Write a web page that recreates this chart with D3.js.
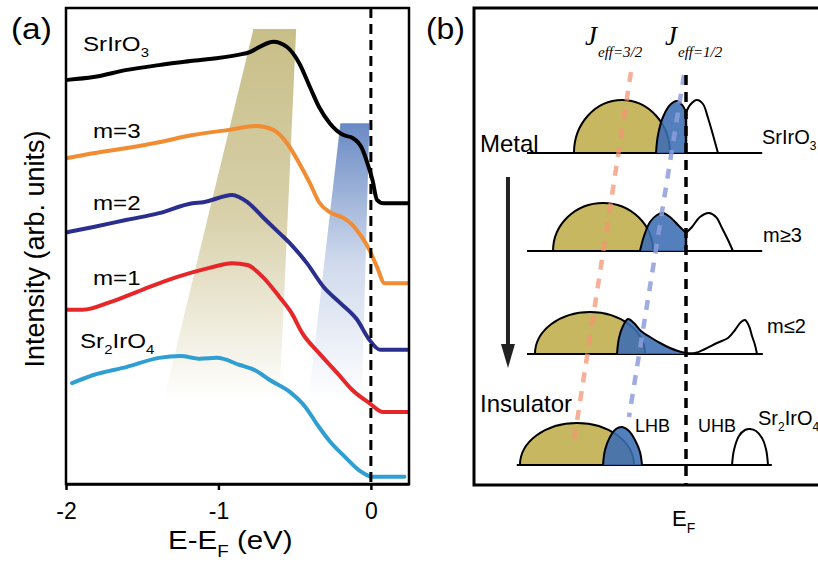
<!DOCTYPE html>
<html>
<head>
<meta charset="utf-8">
<script src="https://cdn.jsdelivr.net/npm/d3@7"></script>
<style>
body { margin: 0; background: #fff; }
svg { display: block; font-family: "Liberation Sans", Arial, sans-serif; }
</style>
</head>
<body>
<svg id="chart" width="818" height="564"></svg>
<script>
// ---------- panel (a): spectra, [E - E_F (eV), intensity (arb. units)] ----------
var srIrO3 = [[-1.99,84.9],[-1.82,85.5],[-1.60,87.0],[-1.39,88.0],[-1.17,88.9],[-0.88,90.1],[-0.79,90.8],
  [-0.72,92.0],[-0.64,92.9],[-0.55,91.8],[-0.47,88.4],[-0.40,83.4],[-0.34,79.2],[-0.27,75.8],[-0.18,73.3],
  [-0.12,72.7],[-0.06,70.6],[-0.03,68.1],[0.01,63.9],[0.04,59.7],[0.08,59.0],[0.24,59.0]];
var m3 = [[-1.99,68.5],[-1.82,69.5],[-1.60,70.6],[-1.39,71.8],[-1.17,73.3],[-0.93,74.4],[-0.75,75.2],
  [-0.64,74.4],[-0.55,71.6],[-0.47,67.4],[-0.40,63.2],[-0.34,59.2],[-0.27,57.1],[-0.18,55.9],[-0.12,54.4],
  [-0.06,51.9],[-0.01,49.2],[0.04,45.6],[0.09,42.2],[0.24,42.2]];
var m2 = [[-1.99,52.9],[-1.82,54.0],[-1.60,55.5],[-1.39,56.9],[-1.17,59.0],[-1.10,59.2],[-0.91,60.7],
  [-0.81,59.2],[-0.71,56.1],[-0.60,52.7],[-0.52,50.2],[-0.42,46.4],[-0.31,41.4],[-0.20,38.0],[-0.09,34.5],
  [-0.01,30.3],[0.06,28.2],[0.24,28.2]];
var m1 = [[-1.99,36.6],[-1.89,36.6],[-1.71,38.2],[-1.50,40.8],[-1.27,43.5],[-1.06,45.4],[-0.91,46.4],
  [-0.81,46.0],[-0.71,43.5],[-0.60,39.3],[-0.52,35.9],[-0.45,31.7],[-0.34,27.5],[-0.22,23.3],[-0.12,19.7],
  [-0.01,17.0],[0.08,15.1],[0.24,15.1]];
var sr2IrO4 = [[-1.96,21.2],[-1.82,22.9],[-1.60,24.6],[-1.39,26.5],[-1.25,26.9],[-1.12,26.3],[-1.01,26.5],
  [-0.86,25.0],[-0.76,23.9],[-0.66,21.8],[-0.53,19.3],[-0.43,16.2],[-0.35,12.4],[-0.27,9.0],[-0.17,5.7],
  [-0.07,2.7],[0.01,1.5],[0.22,1.5]];
var seriesNames = ["SrIrO3", "m=3", "m=2", "m=1", "Sr2IrO4"];
var seriesColors = ["#000000", "#f28c32", "#2a2e8c", "#e62629", "#2f9ed3"];
var xTicks = [-2, -1, 0];

// shaded guides of panel (a)
var shadeJ32 = [[-0.77,95.6],[-0.49,95.6],[-0.60,17.6],[-1.36,17.6]];
var shadeJ12 = [[-0.20,75.8],[-0.01,75.8],[-0.06,17.6],[-0.41,17.6]];

// ---------- panel (b): schematic DOS, [E (arb.), height] ----------
var rowNames = ["SrIrO3", "m≥3", "m≤2", "Sr2IrO4"];
var rowBase = [6.64, 4.68, 2.62, 0.4];
var rowSpan = [[-2.65,1.27],[-2.65,1.27],[-2.65,1.28],[-2.82,1.43]];
// J_eff=3/2 band: centre, half width, height
var j32Band = [[-1.067,0.80,1.06],[-1.383,0.833,0.96],[-1.60,0.917,0.84],[-1.817,0.95,0.84]];
// J_eff=1/2 band, occupied part (filled)
var j12Filled = [
  [[-0.5,0],[-0.467,0.36],[-0.383,0.72],[-0.267,0.96],[-0.15,1.04],[-0.05,0.94],[0,0.8]],
  [[-0.767,0],[-0.70,0.30],[-0.60,0.58],[-0.483,0.72],[-0.383,0.76],[-0.267,0.68],[-0.133,0.52],[0,0.36]],
  [[-1.15,0],[-1.117,0.32],[-1.05,0.56],[-0.967,0.70],[-0.867,0.62],[-0.75,0.46],[-0.60,0.34],[-0.433,0.22],
    [-0.267,0.12],[-0.133,0.06],[0,0.02]],
  [[-1.383,0],[-1.35,0.30],[-1.267,0.56],[-1.167,0.72],[-1.067,0.76],[-0.95,0.68],[-0.85,0.50],[-0.767,0.26],[-0.733,0]]
];
// J_eff=1/2 band, empty part (outline)
var j12Empty = [
  [[0,0.8],[0.067,0.96],[0.183,1.06],[0.283,0.98],[0.367,0.70],[0.45,0.36],[0.533,0]],
  [[0,0.36],[0.10,0.48],[0.233,0.68],[0.383,0.76],[0.50,0.68],[0.60,0.46],[0.70,0.22],[0.783,0]],
  [[0,0.02],[0.15,0.02],[0.317,0.10],[0.517,0.22],[0.70,0.32],[0.817,0.48],[0.917,0.64],[0.983,0.68],
    [1.05,0.56],[1.10,0.36],[1.15,0.18],[1.183,0]],
  [[0.767,0],[0.80,0.30],[0.883,0.58],[0.983,0.70],[1.067,0.72],[1.167,0.68],[1.267,0.54],[1.333,0.32],[1.367,0]]
];
var j32Guide = [[-0.917,8.26],[-1.883,0.76]];
var j12Guide = [[-0.033,8.2],[-0.95,1.36]];
var arrowPath = [[-2.967,6.16],[-2.967,2.34]];

var svg = d3.select("#chart");
var defs = svg.append("defs");

// helper: text with subscripts ("_x" parts), optional horizontal stretch
function addLabel(parent, x, y, parts, size, sx) {
  var t = parent.append("text")
    .attr("transform", "translate(" + x + "," + y + ") scale(" + (sx || 1) + ",1)")
    .style("font-size", size + "px")
    .attr("fill", "#000");
  var shift = 0;
  parts.forEach(function(p) {
    var sub = p.charAt(0) === "_";
    var target = sub ? Math.round(size * 0.3) : 0;
    t.append("tspan")
      .attr("dy", target - shift)
      .style("font-size", sub ? Math.round(size * 0.62) + "px" : null)
      .text(sub ? p.slice(1) : p);
    shift = target;
  });
  return t;
}

// ================= panel (a) =================
var xA = d3.scaleLinear().domain([-2, 0.25]).range([66, 409]);
var yA = d3.scaleLinear().domain([0, 100]).range([484, 8]);
var gA = svg.append("g");

function addFade(id, color, y1, y2, mid) {
  var gr = defs.append("linearGradient").attr("id", id)
    .attr("gradientUnits", "userSpaceOnUse")
    .attr("x1", 0).attr("x2", 0).attr("y1", y1).attr("y2", y2);
  gr.append("stop").attr("offset", 0).attr("stop-color", color).attr("stop-opacity", 1);
  gr.append("stop").attr("offset", 0.5).attr("stop-color", color).attr("stop-opacity", mid);
  gr.append("stop").attr("offset", 1).attr("stop-color", color).attr("stop-opacity", 0);
}
addFade("fadeJ32", "#c8be88", yA(shadeJ32[0][1]), yA(shadeJ32[2][1]), 0.72);
addFade("fadeJ12", "#6a8ac4", yA(shadeJ12[0][1]), yA(shadeJ12[2][1]), 0.32);

var poly = d3.line().x(function(d) { return xA(d[0]); }).y(function(d) { return yA(d[1]); });
gA.append("path").attr("d", poly(shadeJ32) + "Z").attr("fill", "url(#fadeJ32)");
gA.append("path").attr("d", poly(shadeJ12) + "Z").attr("fill", "url(#fadeJ12)");

var spec = d3.line()
  .x(function(d) { return xA(d[0]); })
  .y(function(d) { return yA(d[1]); })
  .curve(d3.curveMonotoneX);

[srIrO3, m3, m2, m1, sr2IrO4].forEach(function(s, i) {
  gA.append("path")
    .attr("d", spec(s))
    .attr("fill", "none")
    .attr("stroke", seriesColors[i])
    .attr("stroke-width", 4)
    .attr("stroke-linejoin", "round")
    .attr("stroke-linecap", "round");
});

// Fermi level
gA.append("line")
  .attr("x1", xA(0)).attr("x2", xA(0))
  .attr("y1", yA(100)).attr("y2", yA(0))
  .attr("stroke", "#000").attr("stroke-width", 3)
  .attr("stroke-dasharray", "10 6");

// frame
gA.append("rect")
  .attr("x", xA(-2)).attr("y", yA(100))
  .attr("width", xA(0.25) - xA(-2)).attr("height", yA(0) - yA(100))
  .attr("fill", "none").attr("stroke", "#000").attr("stroke-width", 2.5);

var xAxis = gA.append("g")
  .attr("transform", "translate(0," + yA(0) + ")")
  .call(d3.axisBottom(xA).tickValues(xTicks).tickSize(6).tickSizeOuter(0).tickPadding(13)
    .tickFormat(function(d) { return String(d); }));
xAxis.select(".domain").attr("stroke-width", 2.5);
xAxis.selectAll(".tick line").attr("stroke-width", 2.5);
xAxis.selectAll(".tick text")
  .attr("font-family", "Liberation Sans, Arial, sans-serif")
  .style("font-size", "23px").attr("fill", "#000");

// labels panel (a)
addLabel(gA, 168, 549, ["E-E", "_F", " (eV)"], 25, 1.18);
gA.append("text")
  .attr("transform", "translate(44,249) rotate(-90)")
  .attr("text-anchor", "middle")
  .style("font-size", "27px")
  .text("Intensity (arb. units)");
addLabel(gA, 11, 39, ["(a)"], 29, 1.15);

var curveLabelPos = [[83, 51], [93, 138], [93, 210], [93, 285], [80, 348]];
var curveLabelParts = [["SrIrO", "_3"], ["m=3"], ["m=2"], ["m=1"], ["Sr", "_2", "IrO", "_4"]];
curveLabelPos.forEach(function(p, i) {
  addLabel(gA, p[0], p[1], curveLabelParts[i], 21, 1.15);
});

// ================= panel (b) =================
var xB = d3.scaleLinear().domain([-3, 1.5]).range([506, 776]);
var yB = d3.scaleLinear().domain([0, 9.54]).range([485, 8]);
var gB = svg.append("g");

rowBase.forEach(function(base, r) {
  var g = gB.append("g");
  var y0 = yB(base);

  // baseline
  g.append("line")
    .attr("x1", xB(rowSpan[r][0])).attr("x2", xB(rowSpan[r][1]))
    .attr("y1", y0).attr("y2", y0)
    .attr("stroke", "#000").attr("stroke-width", 2);

  // J_eff=3/2 half ellipse
  var b = j32Band[r];
  var xl = xB(b[0] - b[1]), xr = xB(b[0] + b[1]);
  var rx = (xr - xl) / 2, ry = y0 - yB(base + b[2]);
  g.append("path")
    .attr("d", "M" + xl + "," + y0 + " A" + rx + "," + ry + " 0 0 1 " + xr + "," + y0 + " Z")
    .attr("fill", "#c7b760").attr("stroke", "#000").attr("stroke-width", 2);

  // J_eff=1/2 occupied
  var area = d3.area()
    .x(function(d) { return xB(d[0]); })
    .y0(y0)
    .y1(function(d) { return yB(base + d[1]); })
    .curve(d3.curveCatmullRom);
  var outline = d3.line()
    .x(function(d) { return xB(d[0]); })
    .y(function(d) { return yB(base + d[1]); })
    .curve(d3.curveCatmullRom);
  g.append("path").attr("d", area(j12Filled[r]))
    .attr("fill", "#3b6db3").attr("fill-opacity", 0.88);
  g.append("path").attr("d", outline(j12Filled[r]))
    .attr("fill", "none").attr("stroke", "#000").attr("stroke-width", 2);
  var last = j12Filled[r][j12Filled[r].length - 1];
  if (last[1] > 0.05) {
    g.append("line")
      .attr("x1", xB(last[0])).attr("x2", xB(last[0]))
      .attr("y1", yB(base + last[1])).attr("y2", y0)
      .attr("stroke", "#000").attr("stroke-width", 2.5);
  }
  // J_eff=1/2 empty
  g.append("path").attr("d", outline(j12Empty[r]))
    .attr("fill", "none").attr("stroke", "#000").attr("stroke-width", 2);
});

// guide lines
var guide = d3.line().x(function(d) { return xB(d[0]); }).y(function(d) { return yB(d[1]); });
gB.append("path").attr("d", guide(j32Guide))
  .attr("stroke", "#f59474").attr("stroke-opacity", 0.75).attr("stroke-width", 4.5)
  .attr("stroke-dasharray", "10 9").attr("fill", "none");
gB.append("path").attr("d", guide(j12Guide))
  .attr("stroke", "#8d9ddc").attr("stroke-opacity", 0.85).attr("stroke-width", 4.5)
  .attr("stroke-dasharray", "10 9").attr("fill", "none");

// Fermi level
gB.append("line")
  .attr("x1", xB(0)).attr("x2", xB(0))
  .attr("y1", yB(8.2)).attr("y2", yB(0))
  .attr("stroke", "#000").attr("stroke-width", 3.5)
  .attr("stroke-dasharray", "10 7");

// frame (open on the right, cut by the figure edge)
gB.append("path")
  .attr("d", "M820," + yB(9.54) + " H" + (xB(-3) - 32) + " V" + yB(0) + " H820")
  .attr("fill", "none").attr("stroke", "#000").attr("stroke-width", 3);

// metal -> insulator arrow
var ax = xB(arrowPath[0][0]), ay1 = yB(arrowPath[0][1]), ay2 = yB(arrowPath[1][1]);
gB.append("line").attr("x1", ax).attr("x2", ax).attr("y1", ay1).attr("y2", ay2 - 20)
  .attr("stroke", "#222").attr("stroke-width", 4);
gB.append("path")
  .attr("d", "M" + (ax - 7) + "," + (ay2 - 24) + " L" + (ax + 7) + "," + (ay2 - 24) + " L" + ax + "," + ay2 + " Z")
  .attr("fill", "#222");

// labels panel (b)
addLabel(gB, 426, 39, ["(b)"], 29, 1.1);
addLabel(gB, 480, 152, ["Metal"], 24);
addLabel(gB, 480, 412, ["Insulator"], 24);
addLabel(gB, 762, 144, ["SrIrO", "_3"], 20);
addLabel(gB, 763, 242, ["m≥3"], 20);
addLabel(gB, 767, 333, ["m≤2"], 20);
addLabel(gB, 635, 432, ["LHB"], 18);
addLabel(gB, 698, 432, ["UHB"], 18);
addLabel(gB, 758, 425, ["Sr", "_2", "IrO", "_4"], 20);
addLabel(gB, 672, 526, ["E", "_F"], 22);

[["3/2", 585], ["1/2", 665]].forEach(function(j) {
  var t = gB.append("text")
    .attr("x", j[1]).attr("y", 45)
    .style("font-family", "'Liberation Serif', 'Times New Roman', serif")
    .style("font-style", "italic");
  t.append("tspan").style("font-size", "27px").text("J");
  t.append("tspan").attr("dy", 12).attr("dx", 1).style("font-size", "15px").text("eff=" + j[0]);
});
</script>
</body>
</html>
